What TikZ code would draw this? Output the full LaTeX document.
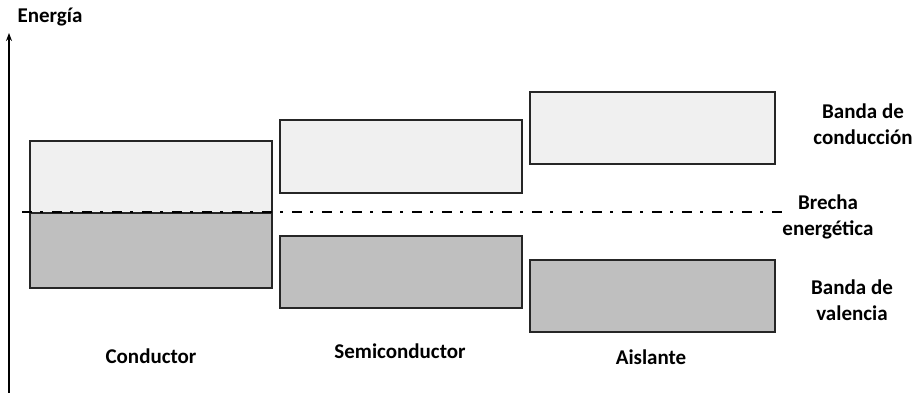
\documentclass[tikz,border=0pt]{standalone}
\usepackage{fontspec}
\setmainfont{Carlito}
\usetikzlibrary{arrows.meta}

\begin{document}
\begin{tikzpicture}[x=1pt, y=-1pt, >={Stealth[length=8pt,width=6pt]}]

	\tikzset{
		lbl/.style={font=\bfseries\fontsize{21}{26}\selectfont, align=center, inner sep=0pt},
		condband/.style={draw=black!85, line width=1.6pt, fill=black!6},
		valband/.style={draw=black!85, line width=1.6pt, fill=black!25},
		gapline/.style={line width=2.6pt, dash pattern=on 10pt off 8pt on 3pt off 9pt}
	}

	\useasboundingbox (0,0) rectangle (919,393);

	\coordinate (A0) at (9,393);
	\coordinate (A1) at (9,33);
	\coordinate (G0) at (22,212);
	\coordinate (G1) at (788,212);

	% energy axis
	\draw[->, line width=1.4pt] (A0) -- (A1);
	\node[lbl] (energia) at (50,17) {Energía};

	% conductor
	\draw[condband] (30,141) rectangle (272,213);
	\draw[valband] (30,213) rectangle (272,288);

	% semiconductor
	\draw[condband] (280,120) rectangle (522,193);
	\draw[valband] (280,236) rectangle (522,308);

	% aislante
	\draw[condband] (530,92) rectangle (775,164);
	\draw[valband] (530,260) rectangle (775,332);

	% band gap line
	\draw[gapline] (G0) -- (G1);

	% labels on the right
	\node[lbl] (bcond) at (863,124) {Banda de\\conducción};
	\node[lbl] (brecha) at (828,217) {Brecha\\energética};
	\node[lbl] (bval) at (852,300) {Banda de\\valencia};

	% labels below
	\node[lbl] (cond) at (151,356) {Conductor};
	\node[lbl] (semi) at (400,351) {Semiconductor};
	\node[lbl] (aisl) at (651,357) {Aislante};

\end{tikzpicture}
\end{document}
